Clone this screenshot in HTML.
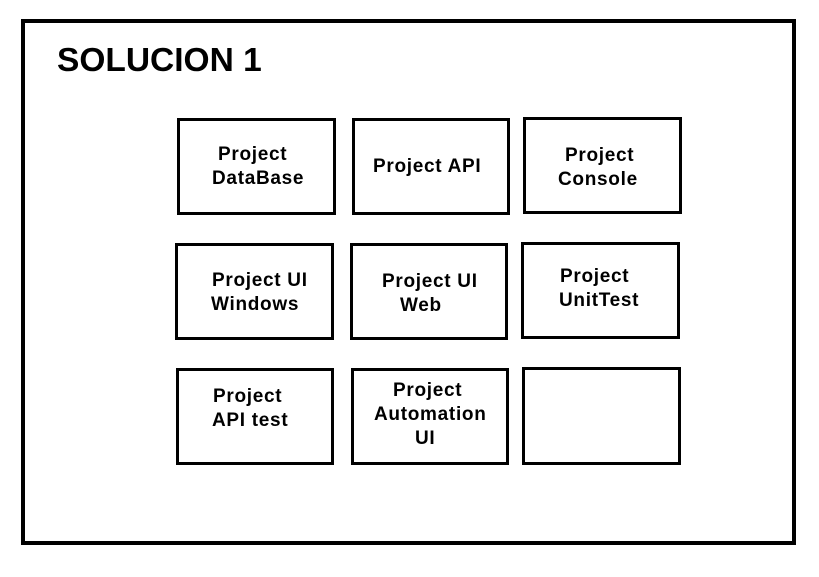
<!DOCTYPE html>
<html><head><style>
body{margin:0;width:819px;height:577px;background:#fff;position:relative;overflow:hidden;font-family:"Liberation Sans",Arial,sans-serif;}
.b{position:absolute;border:3px solid #000;box-sizing:border-box;}
.t{position:absolute;font-weight:bold;font-size:19px;line-height:24px;letter-spacing:0.7px;white-space:nowrap;color:#000;}
</style></head><body>
<div class="b" style="left:21px;top:19px;width:775px;height:526px;border-width:4.5px"></div>
<div class="t" style="left:57px;top:41px;font-size:33.5px;line-height:40px;letter-spacing:0">SOLUCION 1</div>

<div class="b" style="left:177px;top:118px;width:159px;height:97px"></div>
<div class="b" style="left:352px;top:118px;width:158px;height:97px"></div>
<div class="b" style="left:523px;top:117px;width:159px;height:97px"></div>
<div class="b" style="left:175px;top:243px;width:159px;height:97px"></div>
<div class="b" style="left:350px;top:243px;width:158px;height:97px"></div>
<div class="b" style="left:521px;top:242px;width:159px;height:97px"></div>
<div class="b" style="left:176px;top:368px;width:158px;height:97px"></div>
<div class="b" style="left:351px;top:368px;width:158px;height:97px"></div>
<div class="b" style="left:522px;top:367px;width:159px;height:98px"></div>

<div class="t" style="left:218px;top:143px">Project</div>
<div class="t" style="left:212px;top:167px">DataBase</div>
<div class="t" style="left:373px;top:155px">Project API</div>
<div class="t" style="left:565px;top:144px">Project</div>
<div class="t" style="left:558px;top:168px">Console</div>
<div class="t" style="left:212px;top:269px">Project UI</div>
<div class="t" style="left:211px;top:293px">Windows</div>
<div class="t" style="left:382px;top:270px">Project UI</div>
<div class="t" style="left:400px;top:294px">Web</div>
<div class="t" style="left:560px;top:265px">Project</div>
<div class="t" style="left:559px;top:289px">UnitTest</div>
<div class="t" style="left:213px;top:385px">Project</div>
<div class="t" style="left:212px;top:409px">API test</div>
<div class="t" style="left:393px;top:379px">Project</div>
<div class="t" style="left:374px;top:403px">Automation</div>
<div class="t" style="left:415px;top:427px">UI</div>
</body></html>
